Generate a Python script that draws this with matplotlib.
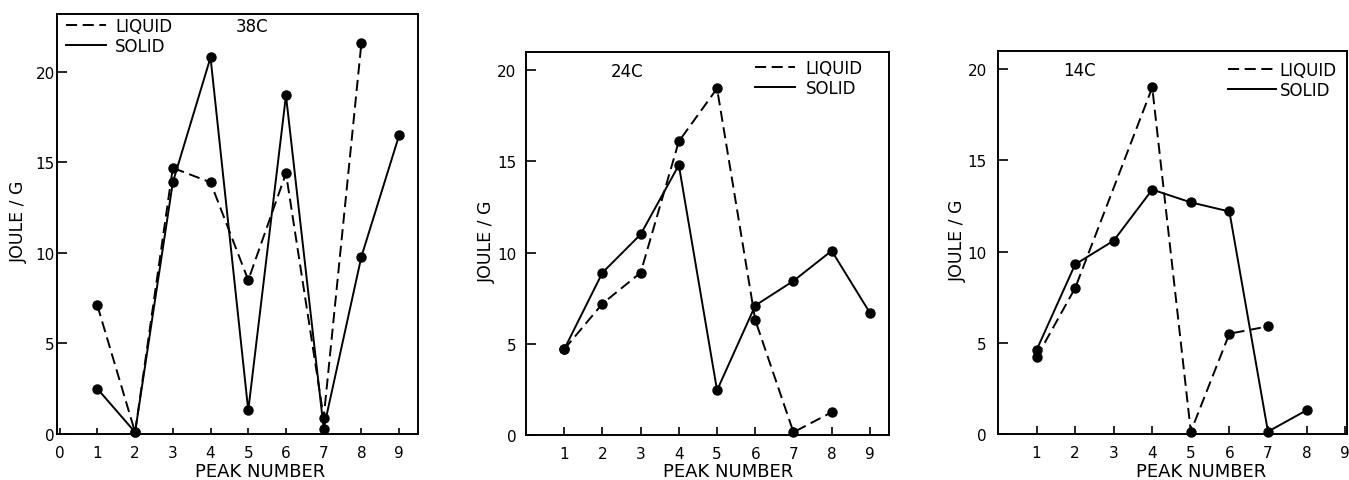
import matplotlib
matplotlib.use("Agg")
import matplotlib.pyplot as plt
from matplotlib.lines import Line2D
import numpy as np

plt.rcParams['font.family'] = ['DejaVu Sans']
plt.rcParams['lines.scale_dashes'] = False

# ---- data ----
# 38C panel
p38_liquid_x = [1, 2, 3, 4, 5, 6, 7, 8]
p38_liquid_y = [7.1, 0.1, 14.7, 13.9, 8.5, 14.4, 0.9, 21.6]
p38_solid_x = [1, 2, 3, 4, 5, 6, 7, 8, 9]
p38_solid_y = [2.5, 0.1, 13.9, 20.8, 1.3, 18.7, 0.3, 9.8, 16.5]
# 24C panel
p24_liquid_x = [1, 2, 3, 4, 5, 6, 7, 8]
p24_liquid_y = [4.7, 7.2, 8.9, 16.1, 19.0, 6.3, 0.15, 1.25]
p24_solid_x = [1, 2, 3, 4, 5, 6, 7, 8, 9]
p24_solid_y = [4.7, 8.9, 11.0, 14.8, 2.45, 7.1, 8.45, 10.1, 6.7]
# 14C panel
p14_liquid_x = [1, 2, 4, 5, 6, 7]
p14_liquid_y = [4.2, 8.0, 19.0, 0.13, 5.5, 5.9]
p14_solid_x = [1, 2, 3, 4, 5, 6, 7, 8]
p14_solid_y = [4.6, 9.3, 10.6, 13.4, 12.7, 12.2, 0.13, 1.3]

y_ticks = [0, 5, 10, 15, 20]
legend_labels = ['LIQUID', 'SOLID']
titles = ['38C', '24C', '14C']

W, H = 1349, 481
fig = plt.figure(figsize=(W / 100, H / 100), dpi=100)


def fx(x):
    return x / W


def fy(y):
    return 1 - y / H


# axes rectangles in pixels: left, top, right, bottom
rects = [(57, 15, 418, 435), (526, 53, 889, 436), (998, 52, 1347, 435)]
xlims = [(-0.07, 9.5), (0, 9.5), (0, 9.05)]
ylims = [(0, 23.2), (0, 21.0), (0, 21.0)]
xticks = [list(range(0, 10)), list(range(1, 10)), list(range(1, 10))]
ytickpad = [1.5, 7, 8]
xtick_len = [4, 6, 6]
title_pos = [(252, 27), (627, 72), (1079, 71)]
legend_anchor = [(66, 18), (755, 60), (1228, 62)]
legend_hl = [2.4, 2.4, 2.9]
legend_tp = [0.55, 0.65, 0.2]
ylabel_x = [19, 487, 958]
xlabel_cx = [260, 728, 1201]

data = [
    (p38_liquid_x, p38_liquid_y, p38_solid_x, p38_solid_y),
    (p24_liquid_x, p24_liquid_y, p24_solid_x, p24_solid_y),
    (p14_liquid_x, p14_liquid_y, p14_solid_x, p14_solid_y),
]

dash = (8, 4)
lw = 1.4
ms = 6.5

for i, (l, t, r, b) in enumerate(rects):
    ax = fig.add_axes([fx(l), fy(b), (r - l) / W, (b - t) / H])
    lx, ly, sx, sy = data[i]
    ax.plot(lx, ly, color='black', lw=lw, dashes=dash, marker='o', ms=ms,
            clip_on=False, zorder=3)
    ax.plot(sx, sy, color='black', lw=lw, linestyle='-', marker='o', ms=ms,
            clip_on=False, zorder=3)
    ax.set_xlim(*xlims[i])
    ax.set_ylim(*ylims[i])
    ax.set_xticks(xticks[i])
    ax.set_yticks(y_ticks)
    ax.tick_params(axis='y', direction='in', length=7, width=1.2,
                   pad=ytickpad[i], labelsize=11)
    ax.tick_params(axis='x', direction='in', length=xtick_len[i], width=1.2,
                   pad=8, labelsize=11)
    for s in ax.spines.values():
        s.set_linewidth(1.4)
    handles = [Line2D([], [], color='black', lw=lw, dashes=dash),
               Line2D([], [], color='black', lw=lw, linestyle='-')]
    ax.legend(handles, legend_labels, loc='upper left',
              bbox_to_anchor=(fx(legend_anchor[i][0]), fy(legend_anchor[i][1])),
              bbox_transform=fig.transFigure, frameon=False, fontsize=12,
              handlelength=legend_hl[i], handletextpad=legend_tp[i],
              labelspacing=0.1, borderpad=0, borderaxespad=0)
    fig.text(fx(title_pos[i][0]), fy(title_pos[i][1]), titles[i],
             ha='center', va='center', fontsize=12)
    fig.text(fx(ylabel_x[i]), fy((t + b) / 2 - 3), 'JOULE / G', rotation=90,
             ha='center', va='center', fontsize=12.5)
    fig.text(fx(xlabel_cx[i]), fy(472), 'PEAK NUMBER', ha='center',
             va='center', fontsize=13)

fig.savefig('out.png', dpi=100)
